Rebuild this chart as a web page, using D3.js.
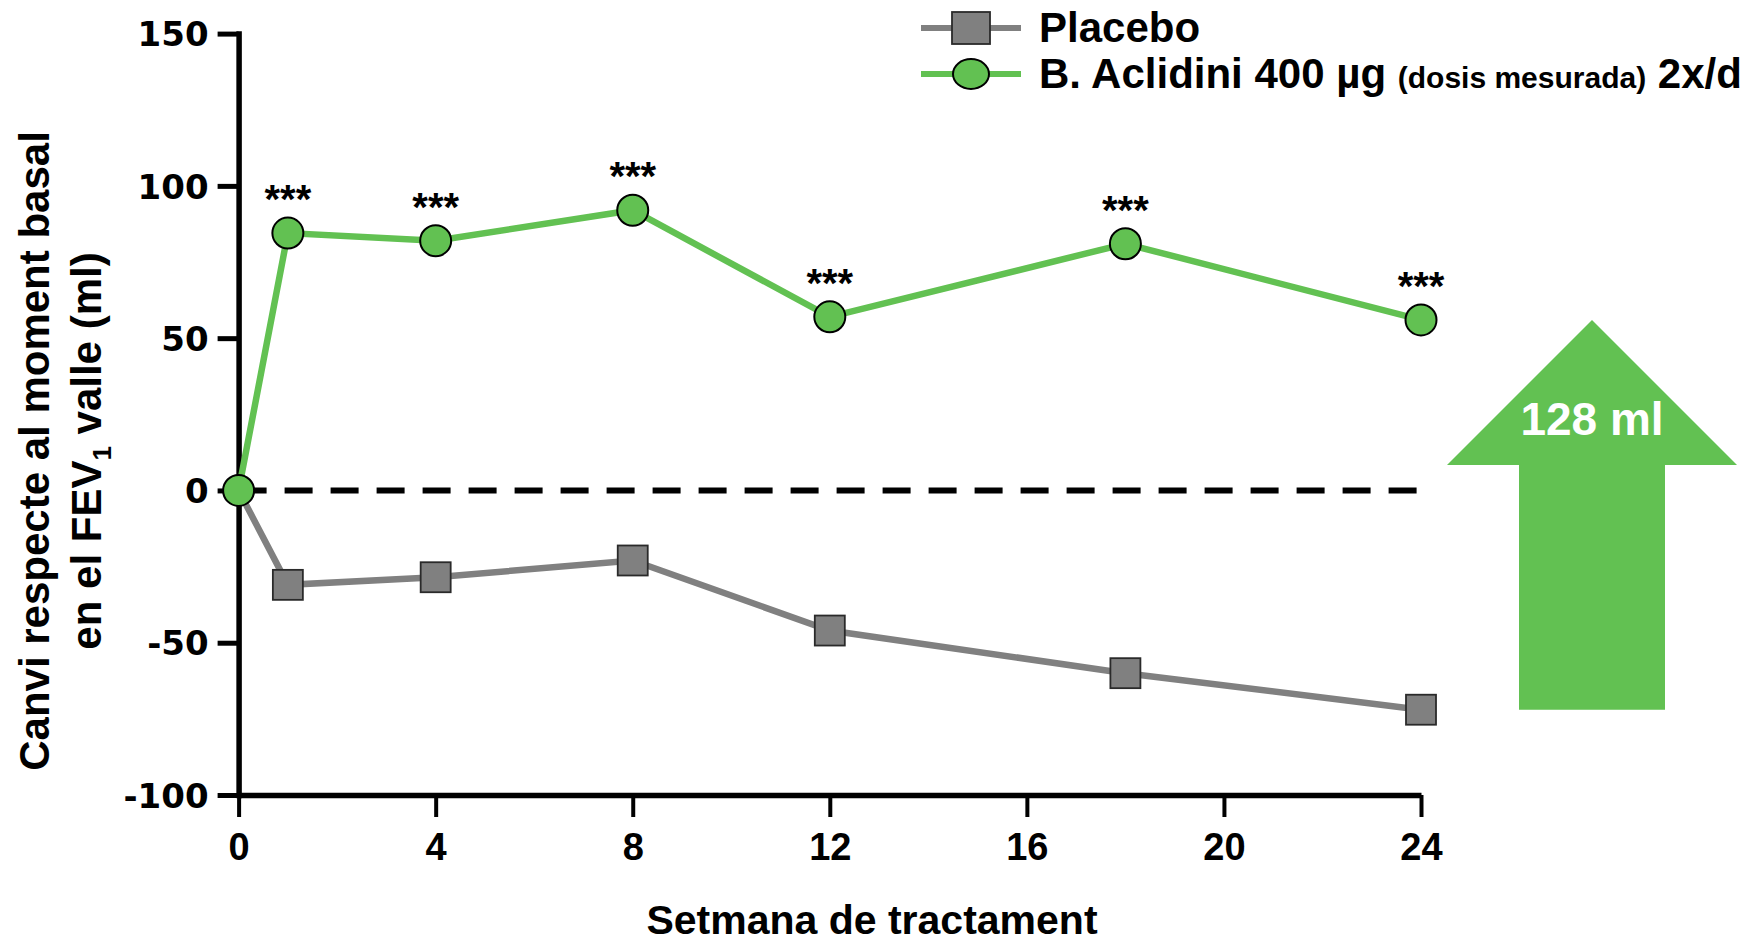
<!DOCTYPE html>
<html>
<head>
<meta charset="utf-8">
<script src="https://cdn.jsdelivr.net/npm/d3@7"></script>
<style>
  body { margin: 0; background: #fff; }
  text { font-family: "Liberation Sans", Arial, sans-serif; font-weight: bold; }
  .yaxis text { font-family: "DejaVu Sans", sans-serif; }
</style>
</head>
<body>
<div id="chart"></div>
<script>
// data
var weeks = [0, 1, 4, 8, 12, 18, 24];
var placebo = [0, -31, -28.5, -23, -46, -60, -72];
var aclidini = [0, 84.5, 82, 92, 57, 81, 56];
var signif = ["", "***", "***", "***", "***", "***", "***"];
var xTicks = [0, 4, 8, 12, 16, 20, 24];
var yTicks = [-100, -50, 0, 50, 100, 150];

var green = "#62c152", grey = "#808080";

var width = 1756, height = 944;

var svg = d3.select("#chart")
  .append("svg")
    .attr("width", width)
    .attr("height", height);

var x = d3.scaleLinear().domain([0, 24]).range([238.6, 1421]);
var y = d3.scaleLinear().domain([-100, 150]).range([795, 33.6]);

// Y axis (plain hyphen for negatives, like the original)
var yAxis = svg.append("g")
  .attr("class", "yaxis")
  .attr("transform", "translate(" + x(0) + ",0)")
  .call(d3.axisLeft(y).tickValues(yTicks).tickSize(21).tickSizeOuter(0).tickPadding(9)
    .tickFormat(function(d) { return String(d); }));
yAxis.select(".domain").attr("stroke-width", 5.5).attr("stroke-linecap", "square");
yAxis.selectAll(".tick line").attr("stroke-width", 5);
yAxis.selectAll("text").style("font-size", "34px").attr("fill", "#000").attr("dy", "0.36em");

// X axis
var xAxis = svg.append("g")
  .attr("class", "xaxis")
  .attr("transform", "translate(0," + y(-100) + ")")
  .call(d3.axisBottom(x).tickValues(xTicks).tickSize(22).tickSizeOuter(0).tickPadding(16));
xAxis.select(".domain").attr("stroke-width", 5.5);
xAxis.selectAll(".tick line").attr("stroke-width", 4);
xAxis.selectAll("text").style("font-size", "38px").attr("fill", "#000");

// zero line
svg.append("line")
  .attr("x1", x(0)).attr("x2", x(24))
  .attr("y1", y(0)).attr("y2", y(0))
  .attr("stroke", "#000")
  .attr("stroke-width", 6)
  .attr("stroke-dasharray", "28,18");

var line = d3.line()
  .x(function(d, i) { return x(weeks[i]); })
  .y(function(d) { return y(d); });

// Placebo
svg.append("path")
  .datum(placebo)
  .attr("d", line)
  .attr("fill", "none")
  .attr("stroke", grey)
  .attr("stroke-width", 6.5);

svg.selectAll("rect.placebo")
  .data(placebo.slice(1))
  .enter()
  .append("rect")
    .attr("class", "placebo")
    .attr("x", function(d, i) { return x(weeks[i + 1]) - 15; })
    .attr("y", function(d) { return y(d) - 15; })
    .attr("width", 30)
    .attr("height", 30)
    .attr("fill", grey)
    .attr("stroke", "#2a2a2a")
    .attr("stroke-width", 1.8);

// Aclidini
svg.append("path")
  .datum(aclidini)
  .attr("d", line)
  .attr("fill", "none")
  .attr("stroke", green)
  .attr("stroke-width", 6.5);

svg.selectAll("circle.acl")
  .data(aclidini)
  .enter()
  .append("circle")
    .attr("class", "acl")
    .attr("cx", function(d, i) { return x(weeks[i]); })
    .attr("cy", function(d) { return y(d); })
    .attr("r", 15.5)
    .attr("fill", green)
    .attr("stroke", "#000")
    .attr("stroke-width", 2);

// significance stars
svg.selectAll("text.star")
  .data(aclidini)
  .enter()
  .append("text")
    .attr("class", "star")
    .attr("x", function(d, i) { return x(weeks[i]); })
    .attr("y", function(d) { return y(d) - 20; })
    .attr("text-anchor", "middle")
    .style("font-size", "40px")
    .text(function(d, i) { return signif[i]; });

// difference arrow
var last = weeks.length - 1;
var ax = 1592, tipY = y(aclidini[last]), botY = y(placebo[last]);
var headH = 145, headW = 145, shaftW = 73;
svg.append("path")
  .attr("d", "M" + ax + "," + tipY +
    " L" + (ax + headW) + "," + (tipY + headH) +
    " L" + (ax + shaftW) + "," + (tipY + headH) +
    " L" + (ax + shaftW) + "," + botY +
    " L" + (ax - shaftW) + "," + botY +
    " L" + (ax - shaftW) + "," + (tipY + headH) +
    " L" + (ax - headW) + "," + (tipY + headH) + " Z")
  .attr("fill", green);

svg.append("text")
  .attr("x", ax)
  .attr("y", 435)
  .attr("text-anchor", "middle")
  .attr("fill", "#fff")
  .style("font-size", "46px")
  .text(Math.round(aclidini[last] - placebo[last]) + " ml");

// axis titles
svg.append("text")
  .attr("x", 872)
  .attr("y", 934)
  .attr("text-anchor", "middle")
  .style("font-size", "41px")
  .text("Setmana de tractament");

var yt = svg.append("g").attr("transform", "translate(0,451) rotate(-90)");
yt.append("text")
  .attr("x", 0).attr("y", 49)
  .attr("text-anchor", "middle")
  .style("font-size", "42px")
  .text("Canvi respecte al moment basal");
var l2 = yt.append("text")
  .attr("x", 0).attr("y", 101)
  .attr("text-anchor", "middle")
  .style("font-size", "42px");
l2.append("tspan").text("en el FEV");
l2.append("tspan").attr("dy", 10).style("font-size", "26px").text("1");
l2.append("tspan").attr("dy", -10).text(" valle (ml)");

// legend
var leg = svg.append("g");
leg.append("line").attr("x1", 921).attr("x2", 1021).attr("y1", 28).attr("y2", 28)
  .attr("stroke", grey).attr("stroke-width", 6);
leg.append("rect").attr("x", 952).attr("y", 12).attr("width", 38).attr("height", 32)
  .attr("fill", grey).attr("stroke", "#2a2a2a").attr("stroke-width", 1.8);
leg.append("text").attr("x", 1039).attr("y", 42).style("font-size", "42px").text("Placebo");

leg.append("line").attr("x1", 921).attr("x2", 1021).attr("y1", 74).attr("y2", 74)
  .attr("stroke", green).attr("stroke-width", 6);
leg.append("ellipse").attr("cx", 971).attr("cy", 74).attr("rx", 18).attr("ry", 15)
  .attr("fill", green).attr("stroke", "#000").attr("stroke-width", 2);
var lt = leg.append("text").attr("x", 1039).attr("y", 88).style("font-size", "42px");
lt.append("tspan").text("B. Aclidini 400 µg ");
lt.append("tspan").style("font-size", "30px").text("(dosis mesurada)");
lt.append("tspan").text(" 2x/d");
</script>
</body>
</html>
